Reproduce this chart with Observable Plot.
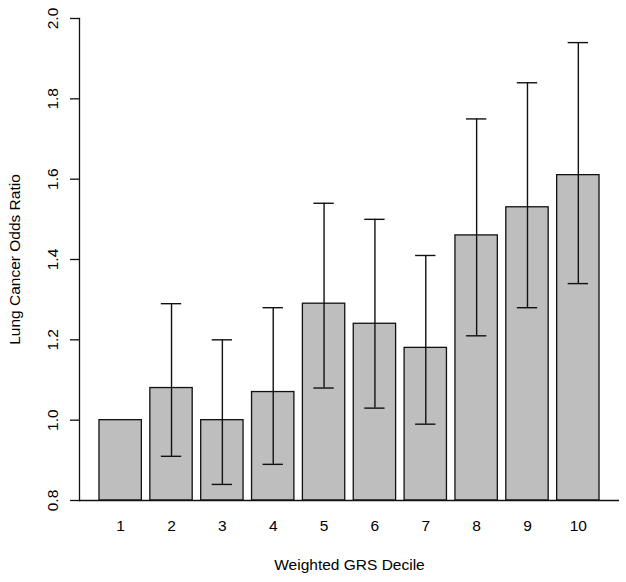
<!DOCTYPE html>
<html>
<head>
<meta charset="utf-8">
<script src="https://cdn.jsdelivr.net/npm/d3@7"></script>
<script src="https://cdn.jsdelivr.net/npm/@observablehq/plot@0.6"></script>
<style>
  html, body { margin: 0; padding: 0; background: #fff; }
  svg { font-family: "Liberation Sans", Arial, sans-serif; }
</style>
</head>
<body>
<div id="chart"></div>
<script>
const deciles = ["1", "2", "3", "4", "5", "6", "7", "8", "9", "10"];
const oddsRatio = [1.00, 1.08, 1.00, 1.07, 1.29, 1.24, 1.18, 1.46, 1.53, 1.61];
const lowerCI = [null, 0.91, 0.84, 0.89, 1.08, 1.03, 0.99, 1.21, 1.28, 1.34];
const upperCI = [null, 1.29, 1.20, 1.28, 1.54, 1.50, 1.41, 1.75, 1.84, 1.94];
const yTicks = [0.8, 1.0, 1.2, 1.4, 1.6, 1.8, 2.0];
const xTitle = "Weighted GRS Decile";
const yTitle = "Lung Cancer Odds Ratio";

const rows = deciles.map((d, i) => ({decile: d, or: oddsRatio[i], lo: lowerCI[i], hi: upperCI[i]}));
const errRows = rows.filter(r => r.lo != null && r.hi != null);

const fs = 15.5;
const chart = Plot.plot({
  width: 626,
  height: 582,
  marginLeft: 79,
  marginRight: 7,
  marginTop: 18,
  marginBottom: 82,
  style: {fontFamily: '"Liberation Sans", Arial, sans-serif', fontSize: fs + "px", color: "#000", background: "#fff", overflow: "visible"},
  x: {domain: deciles, paddingInner: 0.167, paddingOuter: 0.393, round: false, axis: null},
  y: {domain: [0.8, 2.0], axis: null},
  marks: [
    Plot.barY(rows, {x: "decile", y1: 0.8, y2: "or", fill: "#bebebe", stroke: "#111", strokeWidth: 1.3}),
    Plot.ruleX(errRows, {x: "decile", y1: "lo", y2: "hi", stroke: "#111", strokeWidth: 1.4}),
    Plot.tickY(errRows, {x: "decile", y: "lo", stroke: "#111", strokeWidth: 1.4, insetLeft: 11, insetRight: 11}),
    Plot.tickY(errRows, {x: "decile", y: "hi", stroke: "#111", strokeWidth: 1.4, insetLeft: 11, insetRight: 11}),
    Plot.ruleY([0.8], {stroke: "#111", strokeWidth: 1.3}),
    Plot.frame({anchor: "left", stroke: "#111", strokeWidth: 1.3}),
    Plot.axisY({ticks: yTicks, tickSize: 9, tickFormat: () => "", label: null, stroke: "#111", strokeWidth: 1.3}),
    Plot.text(yTicks, {y: d => d, text: d => d.toFixed(1), frameAnchor: "left", textAnchor: "middle", dx: -26, rotate: -90, fill: "#000", fontSize: fs}),
    Plot.text(deciles, {x: d => d, text: d => d, frameAnchor: "bottom", dy: 30, fill: "#000", fontSize: fs}),
    Plot.text([xTitle], {text: d => d, frameAnchor: "bottom", dy: 69, fill: "#000", fontSize: fs}),
    Plot.text([yTitle], {text: d => d, frameAnchor: "left", textAnchor: "middle", dx: -64, rotate: -90, fill: "#000", fontSize: fs})
  ]
});
document.getElementById("chart").appendChild(chart);
</script>
</body>
</html>
